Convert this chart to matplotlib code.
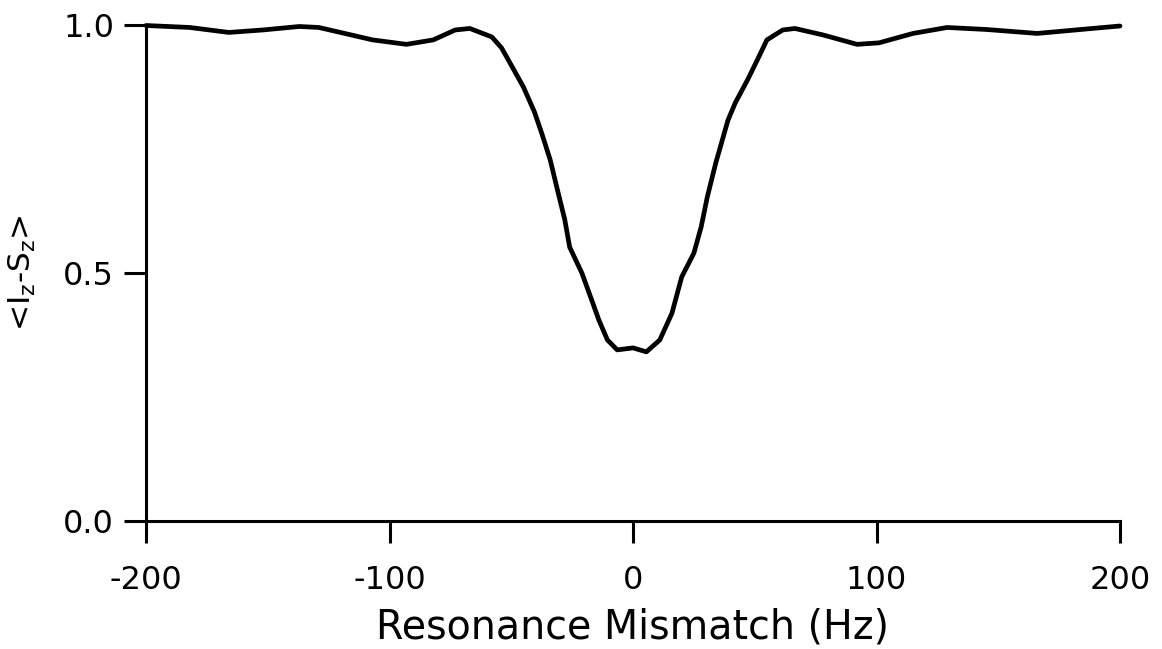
import matplotlib
matplotlib.use("Agg")
import matplotlib.pyplot as plt

# Data
mismatch_hz = [-200, -182, -166, -152, -137, -129, -114, -107, -93, -82, -73, -67,
               -58, -54, -50, -45, -40.5, -37.5, -34, -31, -28, -26, -21, -17, -14,
               -10.5, -6.5, 0, 5.5, 11, 16, 20, 25, 28, 30.5, 34, 39, 42, 47, 51,
               55, 61.5, 66.5, 78, 92, 101, 115, 129, 145, 166, 184, 200]
signal = [0.999, 0.995, 0.985, 0.990, 0.997, 0.995, 0.978, 0.970, 0.961, 0.970, 0.990, 0.993,
          0.976, 0.954, 0.919, 0.875, 0.825, 0.782, 0.728, 0.667, 0.607, 0.552, 0.500, 0.446, 0.405,
          0.365, 0.345, 0.349, 0.341, 0.365, 0.419, 0.492, 0.540, 0.593, 0.653, 0.722, 0.808, 0.843, 0.889, 0.929,
          0.970, 0.990, 0.993, 0.980, 0.961, 0.964, 0.983, 0.995, 0.991, 0.983, 0.991, 0.998]
x_ticks = [-200, -100, 0, 100, 200]
y_ticks = [0.0, 0.5, 1.0]
y_tick_labels = ["0.0", "0.5", "1.0"]

plt.rcParams['font.family'] = ['DejaVu Sans']
plt.rcParams['mathtext.default'] = 'regular'
plt.rcParams['axes.unicode_minus'] = False

fig = plt.figure(figsize=(11.62, 6.49), dpi=100)
ax = fig.add_axes([146/1162, 1 - 521/649, (1120 - 146)/1162, (521 - 25)/649])
ax.plot(mismatch_hz, signal, color='black', lw=3.4, clip_on=False,
        solid_joinstyle='round', solid_capstyle='round')
ax.set_xlim(-200, 200)
ax.set_ylim(0, 1.0)
ax.set_xticks(x_ticks)
ax.set_yticks(y_ticks)
ax.set_yticklabels(y_tick_labels)
for s in ['top', 'right']:
    ax.spines[s].set_visible(False)
for s in ['left', 'bottom']:
    ax.spines[s].set_linewidth(2.2)
ax.tick_params(direction='out', length=16, width=2.2, labelsize=23)
ax.tick_params(axis='x', pad=16)
ax.tick_params(axis='y', pad=7)
ax.set_xlabel('Resonance Mismatch (Hz)', fontsize=28.5, labelpad=8)
ax.set_ylabel(r'<I$_z$-S$_z$>', fontsize=22.5, labelpad=18)
fig.savefig('out.png', dpi=100)
